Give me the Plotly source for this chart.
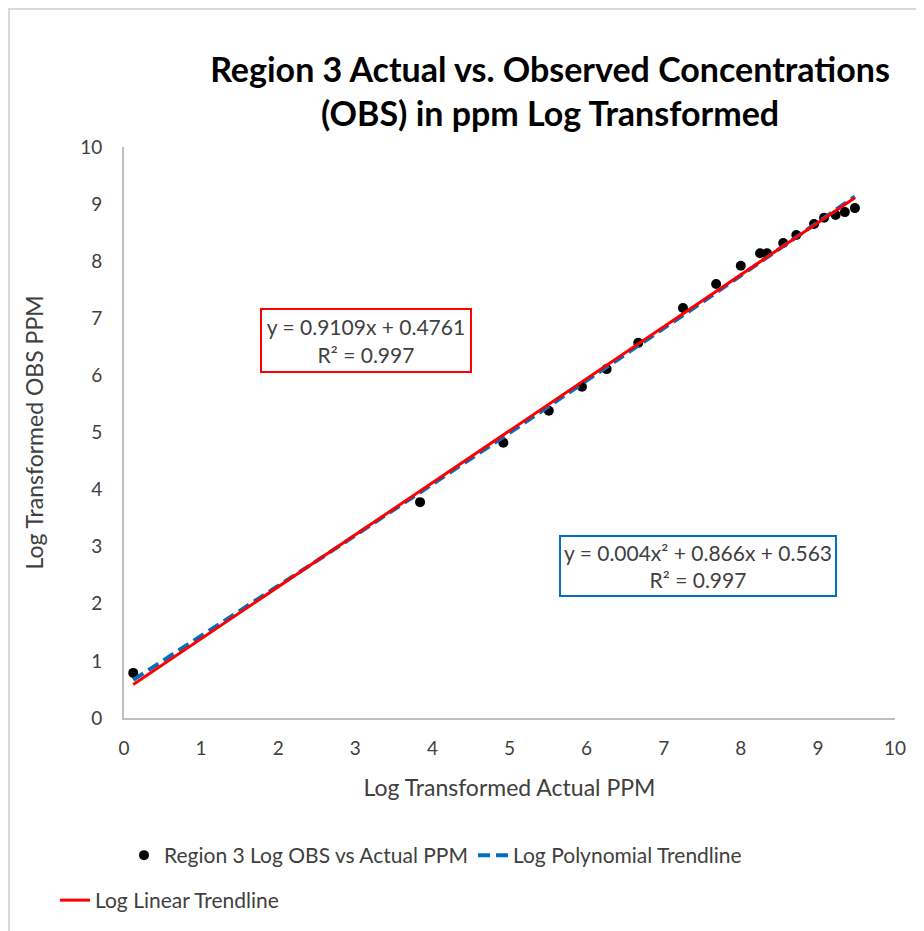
import plotly.graph_objects as go
import numpy as np

# Observed data (log transformed)
actual_log = [0.12, 3.84, 4.92, 5.51, 5.94, 6.26, 6.67, 7.25, 7.68, 8.00, 8.25, 8.34,
              8.55, 8.72, 8.95, 9.08, 9.23, 9.35, 9.48]
obs_log = [0.79, 3.78, 4.82, 5.38, 5.80, 6.11, 6.57, 7.18, 7.60, 7.92, 8.14, 8.14,
           8.32, 8.46, 8.65, 8.76, 8.81, 8.86, 8.93]

# Trendline coefficients shown on the chart
lin_coef = [0.9109, 0.4761]          # slope, intercept
poly_coef = [0.004, 0.866, 0.563]    # a, b, c

tick_vals = list(range(0, 11))

x_tr = np.linspace(min(actual_log), max(actual_log), 60)
y_lin = np.polyval(lin_coef, x_tr)
y_poly = np.polyval(poly_coef, x_tr)

FONT = "Lato"
TXT = "#404040"

# page has an 8px body margin, so the figure is 8px smaller each way
W, H = 916, 923
L, T, PW, PH = 116, 139, 771, 571

fig = go.Figure()
fig.add_trace(go.Scatter(x=actual_log, y=obs_log, mode="markers",
                         name="Region 3 Log OBS vs Actual PPM",
                         marker=dict(color="black", size=10)))
fig.add_trace(go.Scatter(x=x_tr, y=y_poly, mode="lines",
                         name="Log Polynomial Trendline",
                         line=dict(color="#0070C0", width=4, dash="12px,6px")))
fig.add_trace(go.Scatter(x=x_tr, y=y_lin, mode="lines",
                         name="Log Linear Trendline", legend="legend2",
                         line=dict(color="#FF0000", width=3)))

fig.update_layout(
    width=W, height=H,
    paper_bgcolor="white", plot_bgcolor="white",
    margin=dict(l=L, r=W - L - PW, t=T, b=H - T - PH),
    font=dict(family=FONT, color=TXT, size=19),
    title=dict(text="<b>Region 3 Actual vs. Observed Concentrations<br>(OBS) in ppm Log Transformed</b>",
               xref="container", x=542 / W, xanchor="center",
               yref="container", y=1 - 74 / H, yanchor="middle",
               font=dict(family=FONT, size=34, color="black")),
    xaxis=dict(range=[0, 10], tickvals=tick_vals, showgrid=False, zeroline=False,
               showline=True, linecolor="#bfbfbf", linewidth=2, ticks="",
               automargin=False, ticklabelstandoff=12,
               title=dict(text="Log Transformed Actual PPM", font=dict(size=23, color=TXT),
                          standoff=22),
               tickfont=dict(size=19, color=TXT)),
    yaxis=dict(range=[0, 10], tickvals=tick_vals, showgrid=False, zeroline=False,
               showline=True, linecolor="#bfbfbf", linewidth=2, ticks="",
               automargin=False, ticklabelstandoff=16,
               title=dict(text="Log Transformed OBS PPM", font=dict(size=23, color=TXT),
                          standoff=30),
               tickfont=dict(size=19, color=TXT)),
    legend=dict(orientation="h", x=0.0, xanchor="left",
                yref="container", y=1 - 827 / H, yanchor="top",
                font=dict(size=21, color=TXT), entrywidth=304, entrywidthmode="pixels"),
    legend2=dict(orientation="h", x=(47 - L) / PW, xanchor="left",
                 yref="container", y=1 - 872 / H, yanchor="top",
                 font=dict(size=21, color=TXT)),
    showlegend=True,
)

# Equation boxes
fig.add_annotation(text="y = 0.9109x + 0.4761<br>R² = 0.997", xref="paper", yref="paper",
                   x=0.314, y=0.661, xanchor="center", yanchor="middle", showarrow=False,
                   font=dict(size=21, color=TXT), bordercolor="#FF0000", borderwidth=2,
                   width=206, height=59, bgcolor="white")
fig.add_annotation(text="y = 0.004x² + 0.866x + 0.563<br>R² = 0.997", xref="paper", yref="paper",
                   x=0.7445, y=0.266, xanchor="center", yanchor="middle", showarrow=False,
                   font=dict(size=21, color=TXT), bordercolor="#0070C0", borderwidth=2,
                   width=272, height=56, bgcolor="white")

# Chart outer border (cropped on right/bottom)
fig.add_shape(type="rect", xref="paper", yref="paper",
              x0=(1 - L) / PW, x1=(W + 20 - L) / PW,
              y0=-(H + 20 - T - PH) / PH, y1=1 + (T - 1) / PH,
              line=dict(color="#d9d9d9", width=2), layer="below")

fig.write_html("out.html")
